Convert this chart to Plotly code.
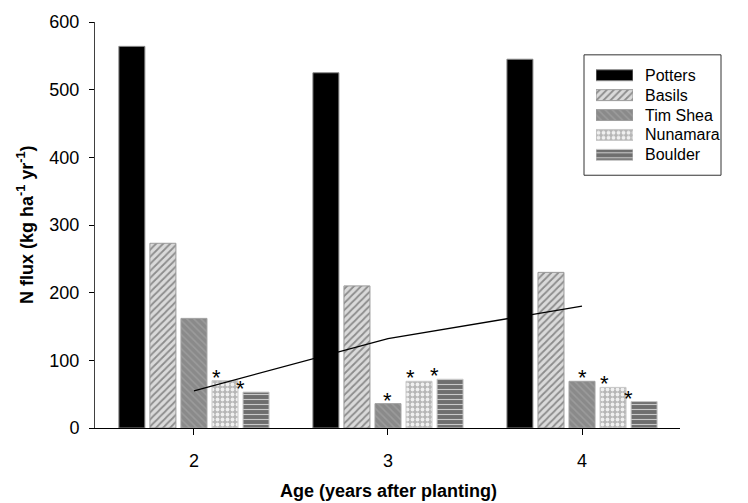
import plotly.graph_objects as go

# ---------------- data ----------------
ages = [2, 3, 4]
series_names = ["Potters", "Basils", "Tim Shea", "Nunamara", "Boulder"]
potters = [564, 525, 545]
basils = [273, 210, 230]
tim_shea = [162, 36, 69]
nunamara = [70, 69, 60]
boulder = [53, 72, 39]
trend_line = [55, 132, 180]
y_ticks = [0, 100, 200, 300, 400, 500, 600]
x_tick_labels = ["2", "3", "4"]
# significance asterisks: which series at which age
star_series = ["Nunamara", "Boulder", "Tim Shea", "Nunamara", "Boulder",
               "Tim Shea", "Nunamara", "Boulder"]
star_ages = [2, 2, 3, 3, 3, 4, 4, 4]

values = {"Potters": potters, "Basils": basils, "Tim Shea": tim_shea,
          "Nunamara": nunamara, "Boulder": boulder}

# ---------------- styles ----------------
FONT = "Arial, Liberation Sans, sans-serif"
styles = {
    "Potters": dict(color="#000000", line="#8a8a8a",
                    pattern=dict(shape="")),
    "Basils": dict(color="#dadada", line="#9a9a9a",
                   pattern=dict(shape="/", bgcolor="#dadada", fgcolor="#8c8c8c",
                                size=5, solidity=0.35, fillmode="replace")),
    "Tim Shea": dict(color="#8a8a8a", line="#a0a0a0",
                     pattern=dict(shape="\\", bgcolor="#8a8a8a", fgcolor="#9c9c9c",
                                  size=5, solidity=0.3, fillmode="replace")),
    "Nunamara": dict(color="#b6b6b6", line="#c8c8c8",
                     pattern=dict(shape=".", bgcolor="#b6b6b6", fgcolor="#f0f0f0",
                                  size=5, solidity=0.45, fillmode="replace")),
    "Boulder": dict(color="#6e6e6e", line="#c4c4c4",
                    pattern=dict(shape="-", bgcolor="#6e6e6e", fgcolor="#c8c8c8",
                                 size=5, solidity=0.22, fillmode="replace")),
}
star_dx = {"Tim Shea": 0, "Nunamara": -9, "Boulder": -16}

# plot-area geometry in pixels
W, H = 748, 503
L, R, T, B = 95, 680, 20, 428
def px_x(p):
    return (p - L) / (R - L)
def px_y(p):
    return (B - p) / (B - T)

slot = 0.16
bar_w = 0.134
n = len(series_names)
offsets = [-n / 2 * slot + i * slot + (slot - bar_w) / 2 for i in range(n)]

fig = go.Figure()

for i, name in enumerate(series_names):
    st = styles[name]
    fig.add_trace(go.Bar(
        x=ages, y=values[name], name=name, width=bar_w, offset=offsets[i],
        marker=dict(color=st["color"], pattern=st["pattern"],
                    line=dict(color=st["line"], width=1)),
        showlegend=False, hoverinfo="skip"))

fig.add_trace(go.Scatter(x=ages, y=trend_line, mode="lines",
                         line=dict(color="black", width=1.3),
                         showlegend=False, hoverinfo="skip"))

# asterisks
annotations = []
for s, a in zip(star_series, star_ages):
    i = series_names.index(s)
    k = ages.index(a)
    annotations.append(dict(
        x=a + offsets[i] + bar_w / 2, y=values[s][k], xref="x", yref="y",
        text="*", showarrow=False, xanchor="center", yanchor="bottom",
        xshift=star_dx[s], yshift=-11,
        font=dict(family=FONT, size=22, color="black")))

# custom legend: swatch bars on an overlay subplot
for i, name in enumerate(series_names):
    st = styles[name]
    fig.add_trace(go.Bar(
        x=[1], y=[i], base=0, orientation="h", width=0.55,
        xaxis="x2", yaxis="y2",
        marker=dict(color=st["color"], pattern=st["pattern"],
                    line=dict(color=st["line"], width=1)),
        showlegend=False, hoverinfo="skip"))
    annotations.append(dict(
        x=px_x(643), y=i, xref="paper", yref="y2", text=name,
        showarrow=False, xanchor="left", yanchor="middle",
        font=dict(family=FONT, size=16, color="black")))

# axis titles
annotations.append(dict(
    x=px_x(388), y=px_y(491), xref="paper", yref="paper",
    text="<b>Age (years after planting)</b>", showarrow=False,
    xanchor="center", yanchor="middle",
    font=dict(family=FONT, size=18, color="black")))
annotations.append(dict(
    x=px_x(25), y=px_y(224), xref="paper", yref="paper",
    text="<b>N flux (kg ha<sup>-1</sup> yr<sup>-1</sup>)</b>", showarrow=False,
    xanchor="center", yanchor="middle", textangle=-90,
    font=dict(family=FONT, size=18, color="black")))

fig.update_layout(
    width=W, height=H, autosize=False,
    margin=dict(l=L, r=W - R, t=T, b=H - B, pad=0),
    paper_bgcolor="white", plot_bgcolor="white",
    barmode="overlay", showlegend=False,
    font=dict(family=FONT, size=18, color="black"),
    xaxis=dict(range=[1.49, 4.505], tickvals=ages, ticktext=x_tick_labels,
               showline=True, linecolor="black", linewidth=1,
               ticks="outside", ticklen=6, tickcolor="black",
               showgrid=False, zeroline=False, ticklabelstandoff=10,
               tickfont=dict(family=FONT, size=18, color="black")),
    yaxis=dict(range=[0, 600], tickvals=y_ticks,
               showline=True, linecolor="#404040", linewidth=1,
               ticks="outside", ticklen=5, tickcolor="black",
               showgrid=False, zeroline=False, ticklabelstandoff=6,
               tickfont=dict(family=FONT, size=18, color="black")),
    xaxis2=dict(domain=[px_x(596), px_x(633)], range=[0, 1], anchor="y2",
                visible=False, fixedrange=True),
    yaxis2=dict(domain=[px_y(163.5), px_y(63.5)], range=[4.5, -0.5],
                anchor="x2", visible=False, fixedrange=True),
    shapes=[dict(type="rect", xref="paper", yref="paper",
                 x0=px_x(584), x1=px_x(721), y0=px_y(174), y1=px_y(53),
                 line=dict(color="#333333", width=1), fillcolor="rgba(0,0,0,0)")],
    annotations=annotations,
)

fig.write_html("out.html")
